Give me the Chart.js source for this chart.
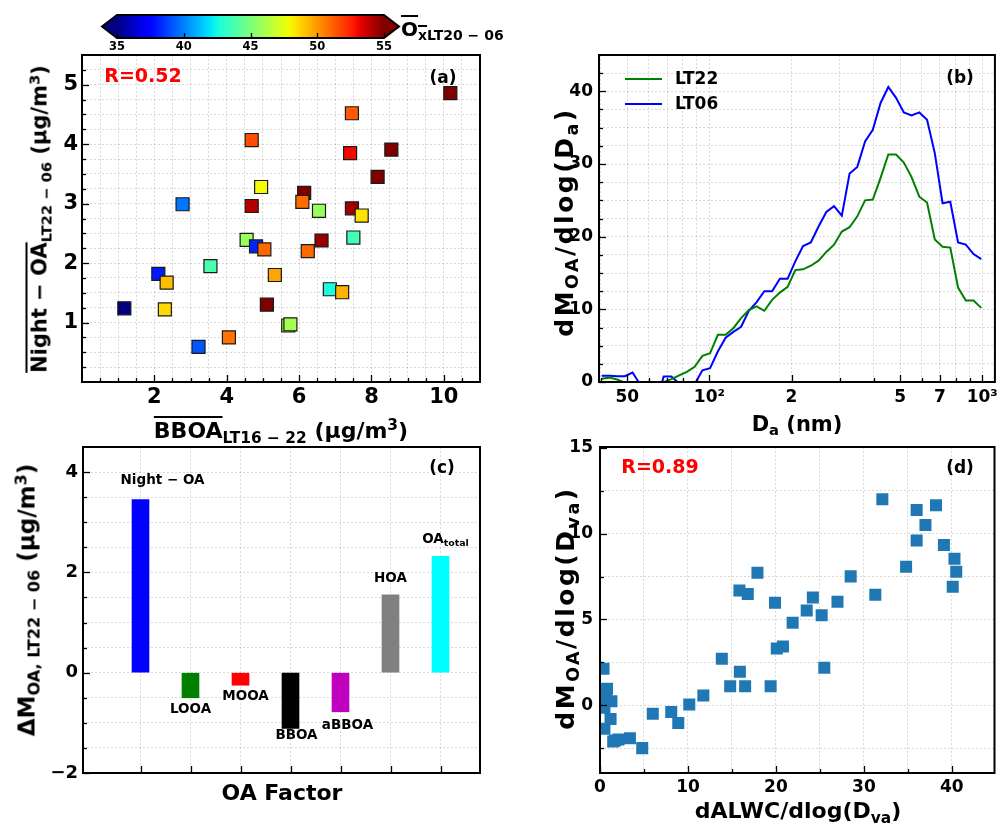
<!DOCTYPE html>
<html>
<head>
<meta charset="utf-8">
<script src="https://cdn.jsdelivr.net/npm/chart.js@4.4.1/dist/chart.umd.min.js"></script>
<style>
  body { margin: 0; background: #fff; }
  #wrap { position: relative; width: 1003px; height: 825px; overflow: hidden; }
  canvas { position: absolute; left: 0; top: 0; }
  .t { position: absolute; font-family: 'DejaVu Sans'; font-weight: bold; white-space: nowrap;
       line-height: 1; color: #000; transform: translate(-50%, -50%); }
  .r { transform: translate(-50%, -50%) rotate(-90deg); }
  .t sub { font-size: 0.7em; vertical-align: -0.32em; line-height: 0; }
  .t sup { font-size: 0.7em; vertical-align: 0.5em; line-height: 0; }
  .ov { text-decoration: overline; text-decoration-thickness: 1.5px; }
</style>
</head>
<body>
<div id="wrap">
  <canvas id="cbar" width="1003" height="825"></canvas>
  <canvas id="panelA" width="1003" height="825"></canvas>
  <canvas id="panelB" width="1003" height="825"></canvas>
  <canvas id="panelC" width="1003" height="825"></canvas>
  <canvas id="panelD" width="1003" height="825"></canvas>

  <div class="t" style="left:401px;top:29px;transform:translate(0,-50%);font-size:20px"><span class="ov">O<sub>x</sub></span><sub>LT20 − 06</sub></div>

  <div class="t" style="left:281px;top:431px;font-size:22px"><span class="ov">BBOA</span><sub>LT16 − 22</sub> (μg/m<sup>3</sup>)</div>
  <div class="t r" style="left:40px;top:219px;font-size:21px"><span class="ov">Night − OA</span><sub>LT22 − 06</sub> (μg/m<sup>3</sup>)</div>
  <div class="t" style="left:143px;top:75px;font-size:19px;color:#f00">R=0.52</div>
  <div class="t" style="left:443px;top:77px;font-size:17px">(a)</div>

  <div class="t" style="left:797px;top:424px;font-size:21px">D<sub>a</sub> (nm)</div>
  <div class="t r" style="left:564px;top:222px;font-size:25px;letter-spacing:2.5px">dM<sub>OA</sub>/dlog(D<sub>a</sub>)</div>
  <div class="t" style="left:960px;top:77px;font-size:17px">(b)</div>

  <div class="t" style="left:282px;top:793px;font-size:22px">OA Factor</div>
  <div class="t r" style="left:27px;top:600px;font-size:23px">ΔM<sub>OA, LT22 − 06</sub> (μg/m<sup>3</sup>)</div>
  <div class="t" style="left:442px;top:467px;font-size:17px">(c)</div>

  <div class="t" style="left:798px;top:811px;font-size:22px">dALWC/dlog(D<sub>va</sub>)</div>
  <div class="t r" style="left:565px;top:608px;font-size:25px;letter-spacing:2.5px">dM<sub>OA</sub>/dlog(D<sub>va</sub>)</div>
  <div class="t" style="left:660px;top:466px;font-size:19px;color:#f00">R=0.89</div>
  <div class="t" style="left:960px;top:467px;font-size:17px">(d)</div>
</div>

<script>
const FONT = 'DejaVu Sans'
Chart.defaults.font.family = FONT
Chart.defaults.font.weight = 'bold'
Chart.defaults.color = '#000'

// colour bar (mean Ox, LT20-06)
const oxTicks = [35, 40, 45, 50, 55]

// (a) night OA vs BBOA, coloured by Ox
const bboa = [1.17, 2.11, 2.34, 2.29, 2.78, 3.22, 3.55, 4.06, 4.55, 4.69, 4.69, 4.95, 4.81, 5.04, 5.11, 5.33, 5.70,
  5.76, 6.14, 6.09, 6.24, 6.55, 6.62, 6.85, 7.19, 7.46, 7.41, 7.46, 7.73, 7.50, 8.17, 8.55, 10.18]
const nightOA = [1.24, 1.82, 1.67, 1.22, 2.99, 0.59, 1.95, 0.75, 2.39, 4.07, 2.96, 3.28, 2.28, 2.23, 1.30, 1.80, 0.95,
  0.97, 3.18, 3.03, 2.20, 2.88, 2.38, 1.56, 1.51, 4.52, 3.85, 2.92, 2.80, 2.43, 3.45, 3.91, 4.86]
const oxMean = [35, 38, 49.2, 48.6, 39.8, 39.2, 43.8, 50.8, 45.7, 51.6, 54.1, 47.9, 38.2, 51, 55, 49.7, 46,
  46, 55, 50.9, 51, 45.7, 54.6, 42.6, 49.4, 51.3, 53, 54.4, 48.4, 43.6, 55, 55, 55]
const aXLabels = [2, 4, 6, 8, 10]
const aYLabels = [1, 2, 3, 4, 5]

// (b) OA mass size distributions
const diam = [40.3, 43.0, 45.9, 49.0, 52.3, 55.9, 59.7, 63.7, 68.0, 72.6, 77.5, 82.7, 88.3, 94.3, 100.6, 107.4,
  114.7, 122.4, 130.7, 139.5, 149.0, 159.0, 169.8, 181.3, 193.5, 206.5, 220.5, 235.4, 251.3, 268.3, 286.4, 305.8,
  326.5, 348.5, 372.1, 397.2, 424.1, 452.7, 483.3, 516.0, 550.8, 588.0, 627.8, 670.2, 715.5, 763.8, 815.5, 870.6,
  929.3, 992.0]
const lt22 = [0.45, 0.6, 0.35, -0.1, -1.0, -2.0, -2.0, -1.0, 0.0, 0.4,
  0.9, 1.4, 2.1, 3.6, 3.95, 6.5, 6.5, 7.4, 8.8, 9.9,
  10.4, 9.8, 11.3, 12.3, 13.1, 15.4, 15.5, 16.0, 16.7, 17.9,
  18.9, 20.7, 21.3, 22.8, 25.0, 25.1, 28.1, 31.3, 31.3, 30.2,
  28.2, 25.5, 24.7, 19.6, 18.6, 18.5, 13.0, 11.2, 11.2, 10.2]
const lt06 = [0.85, 0.85, 0.8, 0.8, 1.3, -0.4, -1.5, -3.0, 0.75, 0.75,
  -0.2, -1.0, -0.3, 1.6, 1.9, 4.2, 6.1, 6.9, 7.6, 9.8,
  11.0, 12.5, 12.5, 14.2, 14.2, 16.6, 18.7, 19.2, 21.4, 23.4,
  24.2, 22.9, 28.7, 29.6, 33.1, 34.7, 38.4, 40.6, 39.1, 37.1,
  36.7, 37.1, 36.1, 31.5, 24.6, 24.8, 19.2, 18.9, 17.6, 16.9]
const bXTicks = [40, 50, 60, 70, 80, 90, 100, 200, 300, 400, 500, 600, 700, 800, 900, 1000]
const bXLabelAt = [50, 100, 200, 500, 700, 1000]
const bXLabels = ['50', '10²', '2', '5', '7', '10³']
const bYLabels = [0, 10, 20, 30, 40]

// (c) change of OA factors
const factors = ['Night − OA', 'LOOA', 'MOOA', 'BBOA', 'aBBOA', 'HOA', 'OA_total']
const deltaM = [3.45, -0.5, -0.25, -1.11, -0.78, 1.55, 2.32]
const cYLabels = [-2, 0, 2, 4]

// (d) OA vs ALWC
const alwc = [32.1, 36.0, 38.2, 37.0, 36.0, 39.1, 40.3, 34.8, 40.5, 40.1, 17.9, 28.5, 15.85, 16.8, 31.3, 24.2,
  19.9, 27.0, 23.5, 25.2, 21.9, 20.8, 20.1, 25.5, 13.85, 15.9, 14.8, 16.5, 19.4, 11.75, 10.15, 6.0, 8.1, 8.9,
  4.8, 3.4, 2.1, 1.7, 1.5, 0.4, 0.8, 0.7, 1.3, 0.5, 1.2, 0.5, 0.6]
const dmOA = [12.0, 11.38, 11.65, 10.5, 9.6, 9.34, 8.54, 8.07, 7.78, 6.9, 7.72, 7.51, 6.69, 6.48, 6.44, 6.28,
  5.97, 6.03, 5.52, 5.25, 4.81, 3.42, 3.31, 2.18, 2.71, 1.95, 1.11, 1.11, 1.11, 0.57, 0.04, -0.5, -0.4, -1.03,
  -2.5, -1.92, -2.0, -2.05, -2.12, 2.12, 0.96, 0.62, 0.23, -0.15, -0.8, -1.37, 0.4]
const dXLabels = [0, 10, 20, 30, 40]
const dYLabels = [0, 5, 10, 15]

// ---------- helpers ----------
const W = 1003, H = 825
// chart area edges -> layout padding, given the fixed y axis width and x axis height
function place(l, t, r, b, yw, xh) {
  return {left: l - yw, top: t, right: W - r, bottom: H - b - xh}
}
function steps(a, b, s) {
  const out = []
  for (let v = a; v <= b + 1e-9; v += s) out.push(Math.round(v * 1000) / 1000)
  return out
}
function interp(t, xs, ys) {
  for (let i = 1; i < xs.length; i++) {
    if (t <= xs[i]) return ys[i - 1] + (ys[i] - ys[i - 1]) * (t - xs[i - 1]) / (xs[i] - xs[i - 1])
  }
  return ys[ys.length - 1]
}
function jetAt(t) {
  const r = interp(t, [0, .35, .66, .89, 1], [0, 0, 1, 1, .5])
  const g = interp(t, [0, .125, .375, .64, .91, 1], [0, 0, 1, 1, 0, 0])
  const b = interp(t, [0, .11, .34, .65, 1], [.5, 1, 1, 0, 0])
  return `rgb(${Math.round(r * 255)},${Math.round(g * 255)},${Math.round(b * 255)})`
}
function jet(v) {
  const lo = oxTicks[0], hi = oxTicks[oxTicks.length - 1]
  return jetAt(Math.min(1, Math.max(0, (v - lo) / (hi - lo))))
}

function axis(pos, min, max, tickVals, labelAt, labelText, size, padPx, fontSize, type) {
  return {
    type: type || 'linear', position: pos, min: min, max: max, offset: false,
    grid: {color: 'rgba(0,0,0,0.15)', lineWidth: 1, drawTicks: false, offset: false},
    border: {display: false, dash: [2, 2]},
    ticks: {
      autoSkip: false, maxRotation: 0, minRotation: 0, padding: padPx, color: '#000',
      font: {family: FONT, weight: 'bold', size: fontSize},
      callback: v => {
        const k = labelAt.indexOf(Math.round(v * 1000) / 1000)
        return k < 0 ? '' : String(labelText[k])
      }
    },
    afterBuildTicks: s => { s.ticks = tickVals.map(v => ({value: v, major: labelAt.includes(v)})) },
    afterFit: s => { if (pos === 'left') s.width = size; else s.height = size }
  }
}

// black frame round the plot and inward tick marks on the left and bottom
const frameTicks = {
  id: 'frameTicks',
  afterDatasetsDraw(chart, args, o) {
    const {ctx, chartArea: a} = chart
    ctx.save()
    if (o.frame !== false) {
      ctx.lineWidth = 2
      ctx.strokeStyle = '#000'
      ctx.strokeRect(a.left, a.top, a.right - a.left, a.bottom - a.top)
    }
    ctx.strokeStyle = '#000'
    ctx.lineWidth = 1.3
    ;['x', 'y'].forEach(id => {
      const s = chart.scales[id]
      if (!s || s.options.display === false) return
      s.ticks.forEach(t => {
        const len = t.major ? (o.major || 7) : 4
        const p = Math.round(s.getPixelForValue(t.value)) + 0.5
        ctx.beginPath()
        if (id === 'x') { ctx.moveTo(p, a.bottom); ctx.lineTo(p, a.bottom - len) }
        else { ctx.moveTo(a.left, p); ctx.lineTo(a.left + len, p) }
        ctx.stroke()
      })
    })
    ctx.restore()
  }
}

const colorBar = {
  id: 'colorBar',
  beforeDraw(chart) {
    const {ctx, chartArea: a} = chart
    const mid = (a.top + a.bottom) / 2, tip = 15
    const grad = ctx.createLinearGradient(a.left, 0, a.right, 0)
    for (let i = 0; i <= 60; i++) grad.addColorStop(i / 60, jetAt(i / 60))
    ctx.save()
    ctx.fillStyle = grad
    ctx.fillRect(a.left, a.top, a.right - a.left, a.bottom - a.top)
    ctx.fillStyle = jetAt(0)
    ctx.beginPath(); ctx.moveTo(a.left, a.top); ctx.lineTo(a.left - tip, mid); ctx.lineTo(a.left, a.bottom); ctx.closePath(); ctx.fill()
    ctx.fillStyle = jetAt(1)
    ctx.beginPath(); ctx.moveTo(a.right, a.top); ctx.lineTo(a.right + tip, mid); ctx.lineTo(a.right, a.bottom); ctx.closePath(); ctx.fill()
    ctx.beginPath()
    ctx.moveTo(a.left - tip, mid); ctx.lineTo(a.left, a.top); ctx.lineTo(a.right, a.top); ctx.lineTo(a.right + tip, mid)
    ctx.lineTo(a.right, a.bottom); ctx.lineTo(a.left, a.bottom); ctx.closePath()
    ctx.lineWidth = 2
    ctx.strokeStyle = '#000'
    ctx.stroke()
    ctx.restore()
  }
}

const lineLegend = {
  id: 'lineLegend',
  afterDatasetsDraw(chart, args, o) {
    const {ctx, chartArea: a} = chart
    ctx.save()
    ctx.font = `bold ${o.size}px ${FONT}`
    ctx.textBaseline = 'middle'
    chart.data.datasets.forEach((ds, i) => {
      const x = a.left + o.left, y = a.top + o.top + i * o.gap
      ctx.strokeStyle = ds.borderColor
      ctx.lineWidth = ds.borderWidth
      ctx.beginPath(); ctx.moveTo(x, y); ctx.lineTo(x + o.len, y); ctx.stroke()
      ctx.fillStyle = '#000'
      ctx.fillText(ds.label, x + o.len + o.space, y + 1)
    })
    ctx.restore()
  }
}

const barNames = {
  id: 'barNames',
  afterDatasetsDraw(chart, args, o) {
    const {ctx} = chart
    const ds = chart.data.datasets[0]
    ctx.save()
    ctx.textBaseline = 'middle'
    ctx.textAlign = 'left'
    ctx.fillStyle = '#000'
    chart.getDatasetMeta(0).data.forEach((el, i) => {
      const up = ds.data[i].y >= 0
      const x = el.x + o.dx[i], y = up ? el.y - o.dy[i] : el.y + o.dy[i]
      const parts = factors[i].split('_')
      ctx.font = `bold ${o.size}px ${FONT}`
      const w1 = ctx.measureText(parts[0]).width
      ctx.font = `bold ${o.size * 0.7}px ${FONT}`
      const w2 = parts[1] ? ctx.measureText(parts[1]).width : 0
      const x0 = x - (w1 + w2) / 2
      ctx.font = `bold ${o.size}px ${FONT}`
      ctx.fillText(parts[0], x0, y)
      if (parts[1]) {
        ctx.font = `bold ${o.size * 0.7}px ${FONT}`
        ctx.fillText(parts[1], x0 + w1, y + o.size * 0.3)
      }
    })
    ctx.restore()
  }
}

const base = {
  responsive: false, animation: false, devicePixelRatio: 1,
  events: []
}

// ---------- colour bar ----------
new Chart(document.getElementById('cbar'), {
  type: 'scatter',
  data: {datasets: []},
  plugins: [colorBar, frameTicks],
  options: {
    ...base,
    layout: {padding: place(117, 15, 384, 38, 0, 20)},
    scales: {
      x: Object.assign(axis('bottom', 35, 55, oxTicks, oxTicks, oxTicks, 20, 2, 11.5),
        {grid: {display: false, drawTicks: false}}),
      y: {display: false, min: 0, max: 1}
    },
    plugins: {legend: {display: false}, tooltip: {enabled: false}, frameTicks: {frame: false, major: 5}}
  }
})

// ---------- (a) ----------
new Chart(document.getElementById('panelA'), {
  type: 'scatter',
  data: {
    datasets: [{
      label: 'Night-OA vs BBOA',
      data: bboa.map((x, i) => ({x: x, y: nightOA[i]})),
      pointStyle: 'rect',
      pointRadius: 9.2,
      pointBackgroundColor: oxMean.map(jet),
      pointBorderColor: '#1a1a1a',
      pointBorderWidth: 1.2,
      clip: 0
    }]
  },
  plugins: [frameTicks],
  options: {
    ...base,
    layout: {padding: place(82, 55, 480, 382, 40, 40)},
    scales: {
      x: axis('bottom', 0, 11, steps(0.5, 10.5, 0.5), aXLabels, aXLabels, 40, 3, 21),
      y: axis('left', 0, 5.5, steps(0.25, 5.25, 0.25), aYLabels, aYLabels, 40, 4, 21)
    },
    plugins: {legend: {display: false}, tooltip: {enabled: false}, frameTicks: {}}
  }
})

// ---------- (b) ----------
new Chart(document.getElementById('panelB'), {
  type: 'scatter',
  data: {
    datasets: [
      {label: 'LT22', data: diam.map((d, i) => ({x: d, y: lt22[i]})), showLine: true, pointRadius: 0,
       borderColor: '#008000', backgroundColor: '#008000', borderWidth: 2, clip: 0},
      {label: 'LT06', data: diam.map((d, i) => ({x: d, y: lt06[i]})), showLine: true, pointRadius: 0,
       borderColor: '#0000ff', backgroundColor: '#0000ff', borderWidth: 2, clip: 0}
    ]
  },
  plugins: [frameTicks, lineLegend],
  options: {
    ...base,
    layout: {padding: place(599, 55, 996, 382, 40, 40)},
    scales: {
      x: axis('bottom', 39.4, 1113, bXTicks, bXLabelAt, bXLabels, 40, 5, 17, 'logarithmic'),
      y: axis('left', 0, 45, steps(0, 42.5, 2.5), bYLabels, bYLabels, 40, 6, 17)
    },
    plugins: {
      legend: {display: false}, tooltip: {enabled: false}, frameTicks: {},
      lineLegend: {left: 26, top: 24, gap: 25, len: 37, space: 13, size: 17}
    }
  }
})

// ---------- (c) ----------
const barColors = ['#0000ff', '#008000', '#ff0000', '#000000', '#bf00bf', '#808080', '#00ffff']
new Chart(document.getElementById('panelC'), {
  type: 'bar',
  data: {
    datasets: [{
      label: 'ΔM OA',
      data: deltaM.map((v, i) => ({x: i, y: v})),
      backgroundColor: barColors,
      barThickness: 17,
      borderWidth: 0
    }]
  },
  plugins: [frameTicks, barNames],
  options: {
    ...base,
    layout: {padding: place(83, 447, 480, 773, 40, 40)},
    scales: {
      x: axis('bottom', -1.15, 6.79, steps(0, 6, 1), steps(0, 6, 1), ['', '', '', '', '', '', ''], 40, 3, 17),
      y: axis('left', -2, 4.5, steps(-2, 4, 0.5), cYLabels, cYLabels.map(v => v < 0 ? '−' + (-v) : v), 40, 5, 18)
    },
    plugins: {
      legend: {display: false}, tooltip: {enabled: false}, frameTicks: {},
      barNames: {size: 13.5, dx: [22, 0, 5, 6, 7, 0, 5], dy: [19, 12, 11, 7, 14, 16, 17]}
    }
  }
})

// ---------- (d) ----------
new Chart(document.getElementById('panelD'), {
  type: 'scatter',
  data: {
    datasets: [{
      label: 'dM OA vs dALWC',
      data: alwc.map((x, i) => ({x: x, y: dmOA[i]})),
      pointStyle: 'rect',
      pointRadius: 8.5,
      pointBackgroundColor: '#1f77b4',
      pointBorderWidth: 0,
      clip: 0
    }]
  },
  plugins: [frameTicks],
  options: {
    ...base,
    layout: {padding: place(600, 447, 996, 773, 40, 40)},
    scales: {
      x: axis('bottom', 0, 44.85, steps(0, 40, 5), dXLabels, dXLabels, 40, 4, 17),
      y: axis('left', -3.95, 15.05, steps(-2.5, 15, 2.5), dYLabels, dYLabels, 40, 7, 17)
    },
    plugins: {legend: {display: false}, tooltip: {enabled: false}, frameTicks: {}}
  }
})
</script>
</body>
</html>
